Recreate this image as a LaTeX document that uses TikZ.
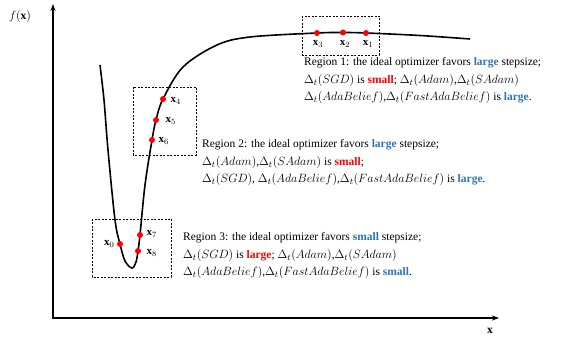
\documentclass[tikz,border=0pt]{standalone}
\usepackage{fontspec}
\setmainfont{Liberation Serif}
\usetikzlibrary{arrows.meta}
\definecolor{goodblue}{RGB}{46,117,182}
\definecolor{badred}{RGB}{255,0,0}
\newcommand{\bluebf}[1]{\textcolor{goodblue}{\textbf{#1}}}
\newcommand{\redbf}[1]{\textcolor{badred}{\textbf{#1}}}
\newcommand{\dstep}[1]{{\fontsize{12.4}{17.5}\selectfont$\Delta_t(#1)$}}
\begin{document}
\begin{tikzpicture}[x=1pt, y=-1pt, font=\fontsize{11.5}{17.5}\selectfont,
  axis/.style={{Stealth[length=7pt,width=5pt]}-{Stealth[length=7pt,width=5pt]}, line width=1.3pt},
  regionbox/.style={draw, dash pattern=on 2pt off 1.5pt, line width=0.6pt},
  iter/.style={circle, fill=badred, inner sep=0pt, minimum size=6pt},
  ilabel/.style={font=\fontsize{11}{12}\selectfont, inner sep=0.5pt},
  note/.style={align=left, anchor=base west, inner sep=0pt}]
  \useasboundingbox (0,0) rectangle (582,339);
  % axes
  \coordinate (o) at (53,318);
  \coordinate (ytip) at (53,4);
  \coordinate (xtip) at (499,318);
  \draw[axis] (ytip) -- (o) -- (xtip);
  \node (fx) at (20,17) {$f(\mathbf{x})$};
  \node (xlab) at (490,331) {$\mathbf{x}$};
  % loss curve
  \draw[line width=1.6pt] plot[smooth, tension=0.55] coordinates {
    (100,65) (104,100) (108,150) (115,220) (120,244) (125,261) (132,268)
    (136,262) (138,251) (140,235) (145,185) (152,140) (156,120) (163,99)
    (183,67) (217,45) (250,37) (317,33) (343,32.5) (366,33) (420,35.5) (470,39)};
  % regions
  \draw[regionbox] (302,16) rectangle (379,55);
  \draw[regionbox] (133,87) rectangle (196,155);
  \draw[regionbox] (92,219) rectangle (171,277);
  % iterates
  \foreach \n/\px/\py in {1/366/33, 2/343/32.5, 3/317/33, 4/163/99, 5/156/120,
    6/152/140, 7/140/235, 8/138/251, 0/120/244}
    \node[iter] (x\n) at (\px,\py) {};
  \foreach \n/\px in {3/318, 2/345, 1/368}
    \node[ilabel] (l\n) at (\px,44) {$\mathbf{x}_{\n}$};
  \foreach \n/\px/\py in {4/170/101, 5/165/121, 6/158/141, 7/146/234, 8/146/253}
    \node[ilabel, anchor=west] (l\n) at (\px,\py) {$\mathbf{x}_{\n}$};
  \node[ilabel, anchor=east] (l0) at (115,244) {$\mathbf{x}_{0}$};
  % descriptions (anchored at the baseline of the last line)
  \node[note] (r1) at (304,101) {Region 1: the ideal optimizer favors \bluebf{large} stepsize;\\
    \dstep{SGD} is \redbf{small}; \dstep{Adam},\dstep{SAdam}\\
    \dstep{AdaBelief},\dstep{FastAdaBelief} is \bluebf{large}.};
  \node[note] (r2) at (202,183) {Region 2: the ideal optimizer favors \bluebf{large} stepsize;\\
    \dstep{Adam},\dstep{SAdam} is \redbf{small};\\
    \dstep{SGD}, \dstep{AdaBelief},\dstep{FastAdaBelief} is \bluebf{large}.};
  \node[note] (r3) at (183,276) {Region 3: the ideal optimizer favors \bluebf{small} stepsize;\\
    \dstep{SGD} is \redbf{large}; \dstep{Adam},\dstep{SAdam}\\
    \dstep{AdaBelief},\dstep{FastAdaBelief} is \bluebf{small}.};
\end{tikzpicture}
\end{document}
